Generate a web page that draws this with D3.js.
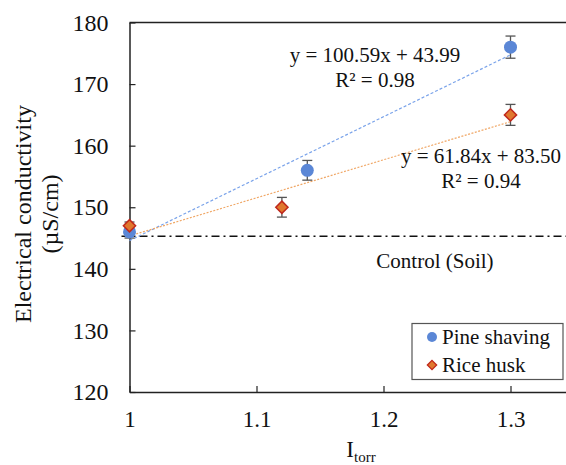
<!DOCTYPE html>
<html>
<head>
<meta charset="utf-8">
<script src="https://cdn.jsdelivr.net/npm/d3@7/dist/d3.min.js"></script>
<style>
  body { margin: 0; background: #fff; }
  svg { display: block; font-family: "Liberation Serif", "Times New Roman", serif; }
</style>
</head>
<body>
<svg width="566" height="465"></svg>
<script>
// data
var seriesNames = ["Pine shaving", "Rice husk"];
var pineX = [1.00, 1.14, 1.30];
var pineY = [146, 156, 176];
var pineErr = [1.0, 1.6, 1.8];
var riceX = [1.00, 1.12, 1.30];
var riceY = [147, 150, 165];
var riceErr = [0.6, 1.6, 1.7];
var trendSlope = [100.59, 61.84];
var trendIntercept = [43.99, 83.50];
var trendR2 = ["0.98", "0.94"];
var controlValue = 145.3;
var xTicks = [1, 1.1, 1.2, 1.3];
var yTicks = [120, 130, 140, 150, 160, 170, 180];

var svg = d3.select("svg");
var plotLeft = 129.5, plotTop = 22.5, plotBottom = 392;

var x = d3.scaleLinear().domain([1, 1.35]).range([plotLeft, plotLeft + 0.35 * 1270]);
var y = d3.scaleLinear().domain([120, 180]).range([plotBottom, plotTop]);

var axisColor = "#222";
var serif = "'Liberation Serif', 'Times New Roman', serif";

// frame: top and bottom lines run off the right edge
svg.append("line").attr("x1", plotLeft).attr("x2", 566).attr("y1", plotTop).attr("y2", plotTop)
  .attr("stroke", axisColor).attr("stroke-width", 1.5);

var xAxis = svg.append("g").attr("transform", "translate(0," + plotBottom + ")")
  .call(d3.axisBottom(x).tickValues(xTicks).tickSizeInner(-6).tickSizeOuter(0).tickPadding(19)
    .tickFormat(function(d) { return d3.format("")(d); }));
xAxis.select(".domain").attr("stroke", axisColor).attr("stroke-width", 1.5);
xAxis.selectAll(".tick line").attr("stroke", axisColor).attr("stroke-width", 1.2);
xAxis.selectAll("text").attr("font-size", 23).attr("fill", "#111").attr("font-family", serif);

var yAxis = svg.append("g").attr("transform", "translate(" + plotLeft + ",0)")
  .call(d3.axisLeft(y).tickValues(yTicks).tickSizeInner(-6).tickSizeOuter(0).tickPadding(21));
yAxis.select(".domain").attr("stroke", axisColor).attr("stroke-width", 1.5);
yAxis.selectAll(".tick line").attr("stroke", axisColor).attr("stroke-width", 1.2);
yAxis.selectAll("text").attr("font-size", 24).attr("fill", "#111").attr("font-family", serif);

// axis titles
var yt = svg.append("text").attr("transform", "translate(31,214) rotate(-90)")
  .attr("text-anchor", "middle").attr("font-size", 24).attr("fill", "#111");
yt.append("tspan").attr("x", 0).attr("dy", 0).text("Electrical conductivity");
yt.append("tspan").attr("x", 0).attr("dy", 27).text("(µS/cm)");

var xt = svg.append("text").attr("x", 361).attr("y", 457).attr("text-anchor", "middle")
  .attr("font-size", 23).attr("fill", "#111");
xt.append("tspan").text("I");
xt.append("tspan").attr("font-size", 15).attr("dy", 5).text("torr");

// control line
svg.append("line").attr("x1", plotLeft - 8).attr("x2", 566)
  .attr("y1", y(controlValue)).attr("y2", y(controlValue))
  .attr("stroke", "#111").attr("stroke-width", 1.5).attr("stroke-dasharray", "8,4,2,4");
svg.append("text").attr("x", 435).attr("y", 268).attr("text-anchor", "middle")
  .attr("font-size", 21).attr("fill", "#111").text("Control (Soil)");

// trendlines
var trendColors = ["#7aa3ea", "#f0a868"];
var trendDash = ["3,2", "2,1.5"];
[0, 1].forEach(function(i) {
  svg.append("line")
    .attr("x1", x(1)).attr("y1", y(trendSlope[i] * 1 + trendIntercept[i]))
    .attr("x2", x(1.3)).attr("y2", y(trendSlope[i] * 1.3 + trendIntercept[i]))
    .attr("stroke", trendColors[i]).attr("stroke-width", 1.2)
    .attr("stroke-dasharray", trendDash[i]);
});

// equations
var eqPos = [[375, 62], [481, 163]];
[0, 1].forEach(function(i) {
  var g = svg.append("text").attr("text-anchor", "middle").attr("font-size", 21).attr("fill", "#111");
  g.append("tspan").attr("x", eqPos[i][0]).attr("y", eqPos[i][1])
    .text("y = " + trendSlope[i].toFixed(2) + "x + " + trendIntercept[i].toFixed(2));
  g.append("tspan").attr("x", eqPos[i][0]).attr("y", eqPos[i][1] + 25)
    .text("R² = " + trendR2[i]);
});

// error bars
function errorBars(xs, ys, es) {
  var g = svg.append("g").attr("stroke", "#555").attr("stroke-width", 1.3);
  xs.forEach(function(xv, i) {
    var cx = x(xv), y1 = y(ys[i] + es[i]), y2 = y(ys[i] - es[i]);
    g.append("line").attr("x1", cx).attr("x2", cx).attr("y1", y1).attr("y2", y2);
    g.append("line").attr("x1", cx - 5).attr("x2", cx + 5).attr("y1", y1).attr("y2", y1);
    g.append("line").attr("x1", cx - 5).attr("x2", cx + 5).attr("y1", y2).attr("y2", y2);
  });
}
errorBars(pineX, pineY, pineErr);
errorBars(riceX, riceY, riceErr);

var pineColor = "#5b87d6";
var riceFill = "#e0782e", riceStroke = "#c0281c";
var diamond = d3.symbol().type(d3.symbolDiamond2).size(95);

svg.append("g").selectAll("circle").data(pineX).join("circle")
  .attr("cx", function(d) { return x(d); })
  .attr("cy", function(d, i) { return y(pineY[i]); })
  .attr("r", 6.5).attr("fill", pineColor);

svg.append("g").selectAll("path").data(riceX).join("path")
  .attr("d", diamond)
  .attr("transform", function(d, i) { return "translate(" + x(d) + "," + y(riceY[i]) + ")"; })
  .attr("fill", riceFill).attr("stroke", riceStroke).attr("stroke-width", 1.5);

// legend
var lg = svg.append("g");
lg.append("rect").attr("x", 412).attr("y", 323.5).attr("width", 151).attr("height", 56)
  .attr("fill", "#fff").attr("stroke", "#555").attr("stroke-width", 1.2);
lg.append("circle").attr("cx", 432).attr("cy", 337).attr("r", 5).attr("fill", pineColor);
lg.append("path").attr("d", d3.symbol().type(d3.symbolDiamond2).size(55))
  .attr("transform", "translate(432,365)")
  .attr("fill", riceFill).attr("stroke", riceStroke).attr("stroke-width", 1.3);
lg.append("text").attr("x", 442).attr("y", 344).attr("font-size", 21).attr("fill", "#111").text(seriesNames[0]);
lg.append("text").attr("x", 442).attr("y", 372).attr("font-size", 21).attr("fill", "#111").text(seriesNames[1]);
</script>
</body>
</html>
